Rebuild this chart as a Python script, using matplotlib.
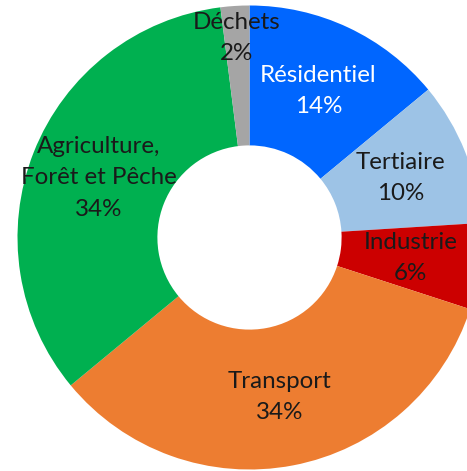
import numpy as np
import matplotlib
matplotlib.use("Agg")
import matplotlib.pyplot as plt

# ── Data ──────────────────────────────────────────────────────────────────────
sectors = ["Résidentiel", "Tertiaire", "Industrie", "Transport",
           "Agriculture,\nForêt et Pêche", "Déchets"]
shares = [14, 10, 6, 34, 34, 2]
colors = ["#0066FF", "#9DC3E6", "#CC0000", "#ED7D31", "#00B050", "#A5A5A5"]
text_colors = ["white", "#1a1a1a", "#1a1a1a", "#1a1a1a", "#1a1a1a", "#1a1a1a"]

plt.rcParams["font.family"] = ["Lato", "DejaVu Sans"]

W, H = 467, 471
fig = plt.figure(figsize=(W / 100, H / 100), dpi=100)

# donut centre at (249.5, 237.5) px from top-left, outer radius 232 px
R_PX = 232
cx, cy = 249.5, H - 237.5
ax = fig.add_axes([(cx - R_PX) / W, (cy - R_PX) / H, 2 * R_PX / W, 2 * R_PX / H])

HOLE = 0.397
ax.pie(shares, colors=colors, startangle=90, counterclock=False,
       radius=1.0, wedgeprops=dict(width=1 - HOLE, linewidth=0))
ax.set_xlim(-1, 1)
ax.set_ylim(-1, 1)
ax.set_aspect("auto")
ax.axis("off")

# labels at the middle of the ring (Déchets pushed outward)
label_r = {5: 0.86}
cum = np.cumsum([0] + shares)
total = sum(shares)
for i, (name, val) in enumerate(zip(sectors, shares)):
    mid = (cum[i] + val / 2) / total * 2 * np.pi
    r = label_r.get(i, (1 + HOLE) / 2)
    ax.text(r * np.sin(mid), r * np.cos(mid), f"{name}\n{val}%",
            ha="center", va="center", fontsize=17.4, color=text_colors[i],
            linespacing=1.6)

fig.savefig("out.png", dpi=100, facecolor="white")
